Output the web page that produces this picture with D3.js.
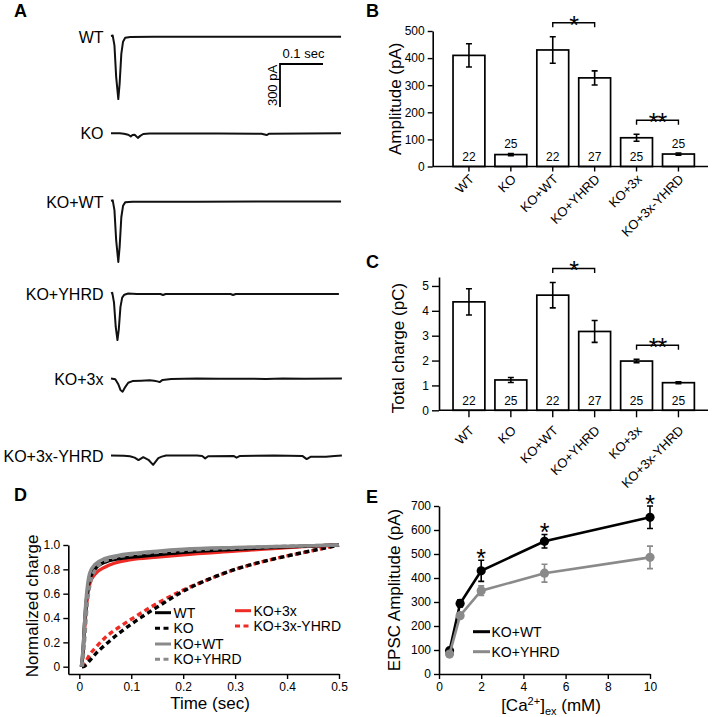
<!DOCTYPE html>
<html><head><meta charset="utf-8">
<script src="https://cdn.jsdelivr.net/npm/d3@7"></script>
<style>
body{margin:0;background:#fff}
svg{display:block}
text{font-family:"Liberation Sans",Arial,sans-serif;fill:#000}
</style>
</head><body><svg id="c" width="712" height="717"></svg>
<script>
// ---------------- DATA ----------------
const groups = ["WT","KO","KO+WT","KO+YHRD","KO+3x","KO+3x-YHRD"];
const nCells = [22,25,22,27,25,25];
// Panel B: amplitude (pA)
const ampMean = [410,44,430,327,106,46];
const ampErr  = [43,4,49,26,13,4];
const ampTicks = [0,100,200,300,400,500];
const ampSig = [["KO+WT","KO+YHRD","*"],["KO+3x","KO+3x-YHRD","**"]];
// Panel C: total charge (pC)
const chargeMean = [4.36,1.22,4.63,3.17,1.98,1.11];
const chargeErr  = [0.53,0.10,0.51,0.44,0.07,0.04];
const chargeTicks = [0,1,2,3,4,5];
const chargeSig = [["KO+WT","KO+YHRD","*"],["KO+3x","KO+3x-YHRD","**"]];

// Panel A: example traces [time (s), current (pA)]
const traceWT = [[0,5],[0.004,8],[0.008,-60],[0.012,-280],[0.017,-435],[0.02,-330],[0.024,-120],[0.028,-35],[0.033,-8],[0.045,-2],[0.1,-1],[0.2,-1],[0.3,0],[0.4,0],[0.535,0]];
const traceKO = [[0,0],[0.02,0],[0.03,-3],[0.04,-10],[0.046,-22],[0.05,-12],[0.055,-10],[0.0625,-32],[0.068,-18],[0.075,-5],[0.09,-2],[0.15,-1],[0.25,-2],[0.35,-3],[0.362,-12],[0.368,-3],[0.45,-1],[0.535,0]];
const traceKOWT = [[0,5],[0.004,8],[0.008,-60],[0.012,-270],[0.017,-422],[0.02,-320],[0.024,-110],[0.028,-30],[0.033,-6],[0.05,-1],[0.2,-1],[0.35,0],[0.535,0]];
const traceKOYHRD = [[0,5],[0.003,8],[0.007,-60],[0.011,-230],[0.015,-321],[0.018,-250],[0.022,-90],[0.026,-25],[0.031,-5],[0.04,3],[0.06,0],[0.115,0],[0.121,-7],[0.127,0],[0.278,0],[0.284,-7],[0.29,0],[0.53,0]];
const traceKO3x = [[0,0],[0.01,-5],[0.017,-40],[0.022,-80],[0.027,-92],[0.033,-60],[0.04,-30],[0.05,-18],[0.07,-15],[0.09,-12],[0.1,-15],[0.108,-20],[0.113,-25],[0.12,-10],[0.14,-3],[0.2,0],[0.25,-2],[0.3,-1],[0.36,-3],[0.4,0],[0.45,-1],[0.537,0]];
const traceKO3xYHRD = [[0,0],[0.03,-2],[0.044,-5],[0.055,-15],[0.064,-32],[0.075,-12],[0.087,-30],[0.098,-65],[0.11,-18],[0.118,-8],[0.128,0],[0.2,0],[0.212,-4],[0.219,-20],[0.226,-5],[0.285,-3],[0.292,-15],[0.3,-3],[0.38,0],[0.445,-3],[0.455,-25],[0.465,-8],[0.5,-8],[0.52,-3],[0.537,0]];
const traceSeries = [traceWT,traceKO,traceKOWT,traceKOYHRD,traceKO3x,traceKO3xYHRD];

// Panel D: normalized cumulative charge [time (s), fraction]
const cumWT = [[0.004,0],[0.007,0.12],[0.01,0.35],[0.015,0.6],[0.02,0.72],[0.03,0.8],[0.05,0.86],[0.1,0.9],[0.15,0.92],[0.2,0.94],[0.3,0.965],[0.4,0.985],[0.5,1.0]];
const cumKO = [[0.005,0],[0.01,0.005],[0.02,0.05],[0.03,0.1],[0.05,0.18],[0.075,0.27],[0.1,0.35],[0.15,0.49],[0.2,0.62],[0.25,0.72],[0.3,0.8],[0.35,0.86],[0.4,0.91],[0.45,0.955],[0.5,1.0]];
const cumKOWT = [[0.004,0],[0.008,0.2],[0.012,0.5],[0.016,0.68],[0.02,0.77],[0.03,0.84],[0.05,0.89],[0.075,0.915],[0.1,0.93],[0.15,0.95],[0.2,0.965],[0.3,0.98],[0.4,0.99],[0.5,1.0]];
const cumKOYHRD = [[0.006,0],[0.01,0.2],[0.015,0.5],[0.02,0.66],[0.03,0.79],[0.05,0.87],[0.1,0.92],[0.15,0.94],[0.2,0.955],[0.3,0.975],[0.4,0.99],[0.5,1.0]];
const cumKO3x = [[0.004,0],[0.007,0.1],[0.01,0.3],[0.015,0.55],[0.02,0.68],[0.03,0.76],[0.05,0.82],[0.1,0.88],[0.15,0.9],[0.2,0.92],[0.3,0.95],[0.4,0.98],[0.5,1.0]];
const cumKO3xYHRD = [[0.005,0],[0.01,0.02],[0.02,0.1],[0.03,0.15],[0.05,0.24],[0.075,0.32],[0.1,0.39],[0.15,0.52],[0.2,0.63],[0.25,0.72],[0.3,0.8],[0.35,0.86],[0.4,0.91],[0.45,0.955],[0.5,1.0]];
const cumTicksX = [0,0.1,0.2,0.3,0.4,0.5];
const cumTicksY = [0,0.2,0.4,0.6,0.8,1.0];

// Panel E: EPSC amplitude vs [Ca2+]
const caConc = [0.5,1,2,5,10];
const eKOWT = [97,294,430,553,653];
const eKOWTerr = [8,15,44,28,47];
const eKOYHRD = [83,243,347,420,486];
const eKOYHRDerr = [8,10,20,37,47];
const eSig = [false,false,true,true,true];
const eTicksX = [0,2,4,6,8,10];
const eTicksY = [0,100,200,300,400,500,600,700];

// ---------------- DRAW ----------------
const svg = d3.select("#c");
const RED = "#ee2b24", GRAY = "#8a8a8a";

function panelLetter(t,x,y){
  svg.append("text").attr("x",x).attr("y",y).text(t)
    .style("font-size","18px").style("font-weight","bold");
}
panelLetter("A",14,17);
panelLetter("B",366,17);
panelLetter("C",366,268);
panelLetter("D",14,501);
panelLetter("E",366,503);

// ---- Panel A ----
const xT = d3.scaleLinear().domain([0,0.1]).range([111,154]);
const rowBase = [36.7,133.3,201.5,294,378.5,455.5];
const line = d3.line();
traceSeries.forEach((tr,i)=>{
  const yT = d3.scaleLinear().domain([0,-300]).range([rowBase[i],rowBase[i]+43]);
  svg.append("path").attr("d",line(tr.map(d=>[xT(d[0]),yT(d[1])])))
    .attr("fill","none").attr("stroke","#111").attr("stroke-width",2)
    .attr("stroke-linejoin","round");
  svg.append("text").attr("x",103.5).attr("y",rowBase[i]+6).attr("text-anchor","end")
    .style("font-size","16px").text(groups[i]);
});
{
  const yT = d3.scaleLinear().domain([0,-300]).range([0,43]);
  const sx=280, sy=64;
  const L = xT(0.1)-xT(0), V = yT(-300)-yT(0);
  svg.append("path").attr("d",`M${sx+L},${sy}H${sx}V${sy+V}`)
    .attr("fill","none").attr("stroke","#000").attr("stroke-width",1.8);
  svg.append("text").attr("x",sx+L/2+2).attr("y",sy-6).attr("text-anchor","middle")
    .style("font-size","13px").text("0.1 sec");
  svg.append("text").attr("transform",`translate(${sx-3.5},${sy+V/2}) rotate(-90)`)
    .attr("text-anchor","middle").style("font-size","13px").text("300 pA");
}

// ---- Bar panels ----
function barPanel(opt){
  const {means,errs,ticks,domainMax,y0,yTop,axisX,fmt,title,titleX,sig,tick,labDy} = opt;
  const xB = d3.scaleBand().domain(groups).range([448,699.4]).paddingInner(0.24).paddingOuter(0.12);
  const yB = d3.scaleLinear().domain([0,domainMax]).range([y0,yTop]);
  const g = svg.append("g");
  g.selectAll("rect.bar").data(groups).join("rect")
    .attr("x",d=>xB(d)).attr("width",xB.bandwidth())
    .attr("y",(d,i)=>yB(means[i])).attr("height",(d,i)=>yB(0)-yB(means[i]))
    .attr("fill","#fff").attr("stroke","#000").attr("stroke-width",1.7);
  groups.forEach((d,i)=>{
    const cx = xB(d)+xB.bandwidth()/2;
    const a = yB(means[i]+errs[i]), b = yB(means[i]-errs[i]);
    g.append("path").attr("d",`M${cx},${a}V${b}M${cx-3},${a}H${cx+3}M${cx-3},${b}H${cx+3}`)
      .attr("stroke","#000").attr("stroke-width",1.6).attr("fill","none");
    const h = yB(0)-yB(means[i]);
    g.append("text").attr("x",cx).attr("text-anchor","middle")
      .attr("y", h>20 ? yB(0)-5.5 : yB(means[i]+errs[i])-5)
      .style("font-size","12px").text(nCells[i]);
  });
  const ya = g.append("g").attr("transform",`translate(${axisX},0)`)
    .call(d3.axisLeft(yB).tickValues(ticks).tickSize(tick).tickPadding(3).tickSizeOuter(0).tickFormat(fmt));
  ya.select(".domain").attr("stroke-width",1.6);
  ya.selectAll(".tick line").attr("stroke-width",1.4);
  ya.selectAll("text").style("font-size","12px").style("font-family","Liberation Sans, Arial, sans-serif");
  const xa = g.append("g").attr("transform",`translate(0,${y0})`)
    .call(d3.axisBottom(xB).tickSize(tick).tickSizeOuter(0));
  xa.select(".domain").remove();
  xa.append("line").attr("x1",axisX).attr("x2",708).attr("stroke","#000").attr("stroke-width",1.6);
  xa.selectAll(".tick line").attr("stroke-width",1.4);
  xa.selectAll(".tick text").attr("x",0).attr("y",0).attr("dy",0)
    .attr("text-anchor","end").attr("transform",`translate(6,${labDy}) rotate(-45)`)
    .style("font-size","13px").style("font-family","Liberation Sans, Arial, sans-serif");
  svg.append("text").attr("transform",`translate(${titleX},${(y0+yB(ticks[ticks.length-1]))/2}) rotate(-90)`)
    .attr("text-anchor","middle").style("font-size","17px").text(title);
  sig.forEach(([a,b,s])=>{
    const ia = groups.indexOf(a), ib = groups.indexOf(b);
    const top = Math.max(means[ia]+errs[ia], means[ib]+errs[ib]);
    const by = yB(top)-14;
    const xa1 = xB(a)+xB.bandwidth()/2, xb1 = xB(b)+xB.bandwidth()/2;
    svg.append("path").attr("d",`M${xa1},${by+4.5}V${by}H${xb1}V${by+4.5}`)
      .attr("fill","none").attr("stroke","#000").attr("stroke-width",1.4);
    svg.append("text").attr("x",(xa1+xb1)/2).attr("y",by+11).attr("text-anchor","middle")
      .style("font-size","25px").style("letter-spacing","-1px").text(s);
  });
}
barPanel({means:ampMean,errs:ampErr,ticks:ampTicks,domainMax:500,y0:166.5,yTop:31,axisX:432.7,
  fmt:d3.format("d"),title:"Amplitude (pA)",titleX:401,sig:ampSig,tick:5,labDy:13.5});
barPanel({means:chargeMean,errs:chargeErr,ticks:chargeTicks,domainMax:5.36,y0:410.3,yTop:277,axisX:439,
  fmt:d3.format("d"),title:"Total charge (pC)",titleX:404,sig:chargeSig,tick:7,labDy:21});

// ---- Panel D ----
{
  const xD = d3.scaleLinear().domain([-0.0212,0.5]).range([68.3,339]);
  const yD = d3.scaleLinear().domain([-0.06,1.0]).range([674,545]);
  const ln = d3.line().x(d=>xD(d[0])).y(d=>yD(d[1])).curve(d3.curveMonotoneX);
  const series = [
    [cumKO3xYHRD,RED,"5,3.5"],[cumKO,"#000","5,3.5"],
    [cumKO3x,RED,null],[cumWT,"#000",null],[cumKOYHRD,GRAY,"5,3.5"],[cumKOWT,GRAY,null]
  ];
  series.forEach(([d,c,dash])=>{
    svg.append("path").attr("d",ln(d)).attr("fill","none").attr("stroke",c)
      .attr("stroke-width",3.4).attr("stroke-dasharray",dash);
  });
  const ya = svg.append("g").attr("transform","translate(68.3,0)")
    .call(d3.axisLeft(yD).tickValues(cumTicksY).tickSize(5).tickPadding(3).tickSizeOuter(0).tickFormat(d=>d===0?"0":d3.format(".1f")(d)));
  const xa = svg.append("g").attr("transform","translate(0,674)")
    .call(d3.axisBottom(xD).tickValues(cumTicksX).tickSize(5).tickPadding(3).tickSizeOuter(0).tickFormat(d=>d===0?"0":d3.format(".1f")(d)));
  [ya,xa].forEach(a=>{a.select(".domain").attr("stroke-width",1.6);
    a.selectAll(".tick line").attr("stroke-width",1.4);
    a.selectAll("text").style("font-size","12px").style("font-family","Liberation Sans, Arial, sans-serif");});
  svg.append("text").attr("x",210).attr("y",709).attr("text-anchor","middle").style("font-size","17px").text("Time (sec)");
  svg.append("text").attr("transform","translate(38,606) rotate(-90)").attr("text-anchor","middle").style("font-size","17px").text("Normalized charge");
  const leg = [
    ["WT","#000",null,155,612.7],["KO","#000","5,3.5",155,628.3],["KO+WT",GRAY,null,155,644],["KO+YHRD",GRAY,"5,3.5",155,659.3],
    ["KO+3x",RED,null,235,610.7],["KO+3x-YHRD",RED,"5,3.5",235,626]
  ];
  leg.forEach(([t,c,dash,x,y])=>{
    svg.append("line").attr("x1",x).attr("x2",x+16).attr("y1",y).attr("y2",y)
      .attr("stroke",c).attr("stroke-width",3).attr("stroke-dasharray",dash);
    svg.append("text").attr("x",x+18.5).attr("y",y+5).style("font-size","14px").text(t);
  });
}

// ---- Panel E ----
{
  const xE = d3.scaleLinear().domain([0,10]).range([439,650]);
  const yE = d3.scaleLinear().domain([0,700]).range([674,506]);
  const ln = d3.line().x(d=>xE(d[0])).y(d=>yE(d[1]));
  [[eKOWT,eKOWTerr,"#000"],[eKOYHRD,eKOYHRDerr,GRAY]].forEach(([v,e,c])=>{
    const pts = caConc.map((x,i)=>[x,v[i]]);
    svg.append("path").attr("d",ln(pts)).attr("fill","none").attr("stroke",c).attr("stroke-width",2.6);
    caConc.forEach((x,i)=>{
      const cx=xE(x), a=yE(v[i]+e[i]), b=yE(v[i]-e[i]);
      svg.append("path").attr("d",`M${cx},${a}V${b}M${cx-3},${a}H${cx+3}M${cx-3},${b}H${cx+3}`)
        .attr("stroke",c).attr("stroke-width",1.6).attr("fill","none");
      svg.append("circle").attr("cx",cx).attr("cy",yE(v[i])).attr("r",4.6).attr("fill",c);
    });
  });
  caConc.forEach((x,i)=>{
    if(!eSig[i]) return;
    svg.append("text").attr("x",xE(x)).attr("y",yE(eKOWT[i]+eKOWTerr[i])+6.5).attr("text-anchor","middle")
      .style("font-size","25px").text("*");
  });
  const ya = svg.append("g").attr("transform","translate(439,0)")
    .call(d3.axisLeft(yE).tickValues(eTicksY).tickSize(5).tickPadding(3).tickSizeOuter(0));
  const xa = svg.append("g").attr("transform","translate(0,674)")
    .call(d3.axisBottom(xE).tickValues(eTicksX).tickSize(5).tickPadding(3).tickSizeOuter(0));
  [ya,xa].forEach(a=>{a.select(".domain").attr("stroke-width",1.6);
    a.selectAll(".tick line").attr("stroke-width",1.4);
    a.selectAll("text").style("font-size","12px").style("font-family","Liberation Sans, Arial, sans-serif");});
  const xt = svg.append("text").attr("x",551).attr("y",711).attr("text-anchor","middle").style("font-size","17px");
  xt.append("tspan").text("[Ca");
  xt.append("tspan").attr("dy",-6).style("font-size","11px").text("2+");
  xt.append("tspan").attr("dy",6).text("]");
  xt.append("tspan").attr("dy",4).style("font-size","11px").text("ex");
  xt.append("tspan").attr("dy",-4).text(" (mM)");
  svg.append("text").attr("transform","translate(400,590) rotate(-90)").attr("text-anchor","middle").style("font-size","17px").text("EPSC Amplitude (pA)");
  [["KO+WT","#000",631.7],["KO+YHRD",GRAY,651.7]].forEach(([t,c,y])=>{
    svg.append("line").attr("x1",473).attr("x2",490).attr("y1",y).attr("y2",y).attr("stroke",c).attr("stroke-width",3);
    svg.append("text").attr("x",491.5).attr("y",y+5).style("font-size","14px").text(t);
  });
}
</script>
</body></html>
